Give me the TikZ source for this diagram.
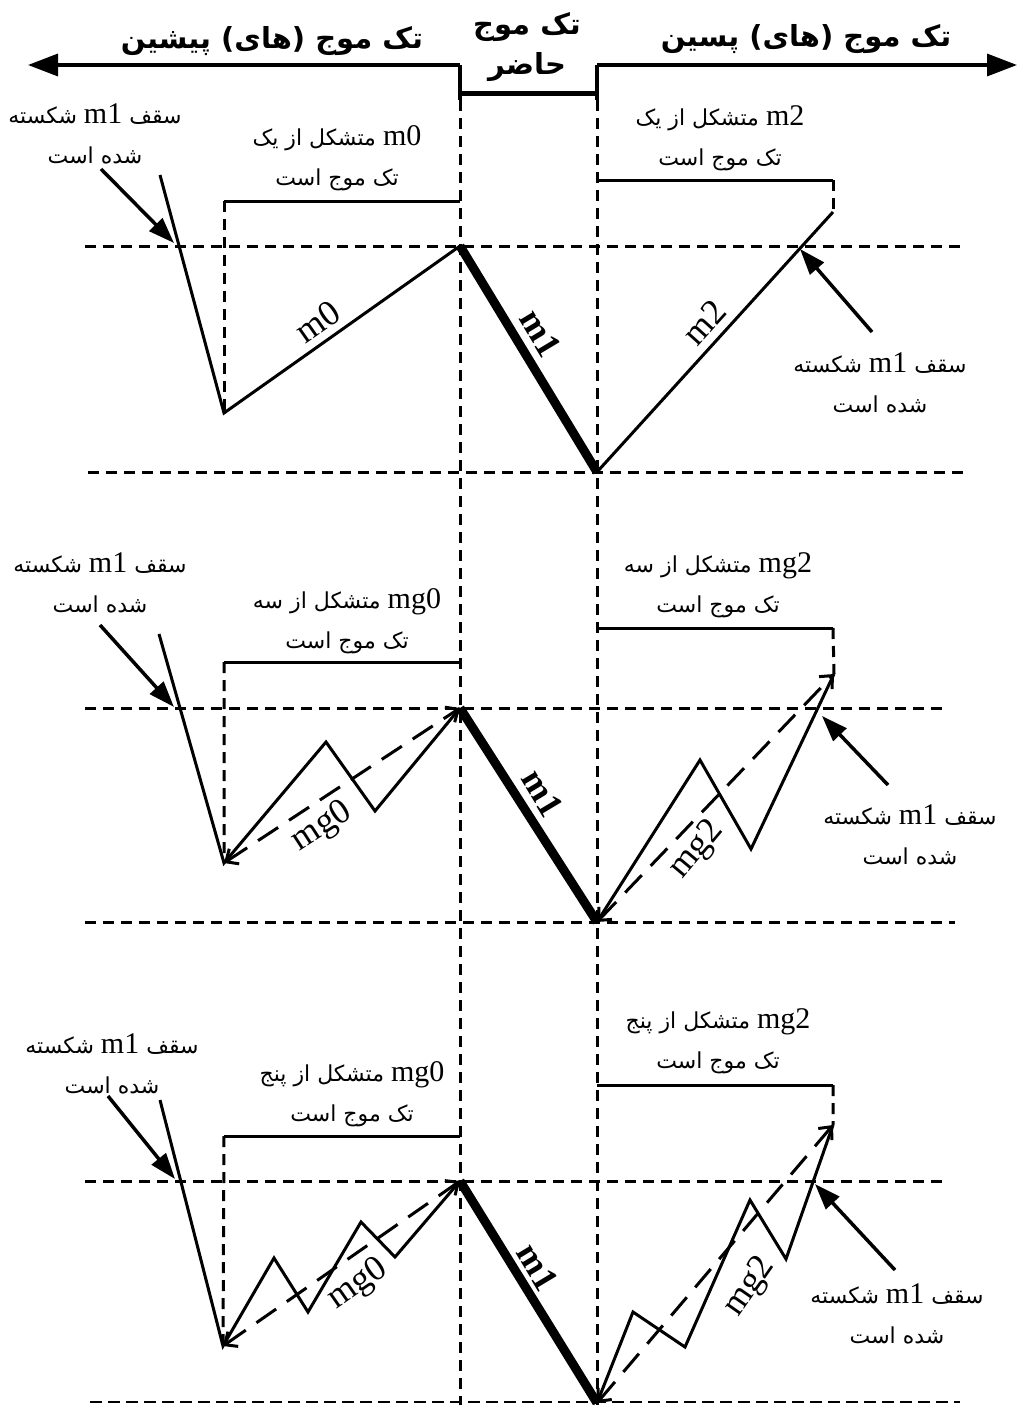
\documentclass[tikz,border=0pt]{standalone}
\usepackage{fontspec}
\usetikzlibrary{arrows.meta}
\TeXXeTstate=1
\newfontfamily\fafont[Script=Arabic]{DejaVu Sans}
\newfontfamily\latfont{Liberation Serif}
\newcommand{\lat}[1]{\beginL{\latfont\fontsize{30}{30}\selectfont #1}\endL}
\newcommand{\roofnote}{\beginR سقف \lat{m1} شکسته\endR\\\beginR شده است\endR}
\newcommand{\madeof}[2]{\beginR\lat{#1} متشکل از #2\endR\\\beginR تک موج است\endR}
\begin{document}
\begin{tikzpicture}[x=1pt,y=-1pt,
  guide/.style={line width=3pt,dash pattern=on 11pt off 7pt},
  wave/.style={line width=3pt,line join=miter},
  mone/.style={line width=9pt},
  trend/.style={line width=3pt,dash pattern=on 24pt off 13pt,{Straight Barb[length=10pt,width=18pt]}-{Straight Barb[length=10pt,width=18pt]}},
  callout/.style={line width=3.5pt,-{Stealth[length=26pt,width=18pt,inset=0pt]}},
  note/.style={font=\fafont\fontsize{22}{40}\selectfont,align=center,inner sep=0pt},
  tag/.style={font=\latfont\fontsize{36}{36}\selectfont,inner sep=0pt},
  bigtag/.style={font=\latfont\bfseries\fontsize{36}{36}\selectfont,inner sep=0pt},
  head/.style={font=\fafont\bfseries\fontsize{29}{30}\selectfont,inner sep=0pt}]
\useasboundingbox (0,0) rectangle (1019,1405);
% time axis on top
\coordinate (nowL) at (460,65); \coordinate (nowR) at (597,65);
\coordinate (pastEnd) at (28,65); \coordinate (nextEnd) at (1017,65);
\coordinate (barL) at (460,100); \coordinate (barR) at (597,100);
\draw[line width=3.5pt,-{Triangle[length=30pt,width=22pt]}] (nowL) -- (pastEnd);
\draw[line width=3.5pt,-{Triangle[length=30pt,width=22pt]}] (nowR) -- (nextEnd);
\draw[line width=3.5pt] (nowL) -- (barL) (nowR) -- (barR);
\draw[line width=5pt] (460,93) -- (597,93);
\node[head] (past) at (272,41) {\beginR تک موج (های) پیشین\endR};
\node[head] (next) at (806,39) {\beginR تک موج (های) پسین\endR};
\node[head] (cur1) at (527,27) {\beginR تک موج\endR};
\node[head] (cur2) at (527,67) {\beginR حاضر\endR};
\coordinate (nowB) at (460,1405); \coordinate (nextB) at (597,1405);
\draw[guide] (barL) -- (nowB) (barR) -- (nextB);

% panel a: single waves
\draw[guide] (85,246) -- (960,246) (88,472) -- (965,472);
\coordinate (a-in) at (160,175); \coordinate (a-p0) at (224,413);
\coordinate (a-top) at (460,246); \coordinate (a-low) at (597,472);
\coordinate (a-p2) at (833,212);
\draw[wave] (a-in) -- (a-p0) -- (a-top);
\draw[mone] (a-top) -- (a-low);
\draw[wave] (a-low) -- (a-p2);
\draw[wave] (224,201) -- (460,201) (597,180) -- (833,180);
\draw[guide] (224,201) -- (a-p0) (833,180) -- (a-p2);
\node[tag,rotate=35] (a-m0) at (318,322) {m0};
\node[bigtag,rotate=-59] (a-m1) at (541,333) {m1};
\node[tag,rotate=48] (a-m2) at (704,322) {m2};
\node[note] (a-rl) at (95,134) {\roofnote};
\node[note] (a-c0) at (337,158) {\madeof{m0}{یک}};
\node[note] (a-c2) at (720,138) {\madeof{m2}{یک}};
\node[note] (a-rr) at (880,383) {\roofnote};
\coordinate (a-hl) at (174,243); \coordinate (a-hr) at (800,249);
\draw[callout] (101,169) -- (a-hl);
\draw[callout] (872,332) -- (a-hr);

% panel b: three waves
\draw[guide] (85,708) -- (945,708) (85,922) -- (955,922);
\coordinate (b-in) at (159,634); \coordinate (b-p0) at (224,863);
\coordinate (b-top) at (460,708); \coordinate (b-low) at (597,922);
\coordinate (b-p2) at (834,674);
\draw[wave] (b-in) -- (b-p0) -- (326,742) -- (375,811) -- (b-top);
\draw[mone] (b-top) -- (b-low);
\draw[wave] (b-low) -- (700,760) -- (751,849) -- (b-p2);
\draw[trend] (b-p0) -- (b-top);
\draw[trend] (b-low) -- (b-p2);
\draw[wave] (224,662) -- (460,662) (597,628) -- (833,628);
\draw[guide] (224,662) -- (b-p0) (833,628) -- (b-p2);
\node[tag,rotate=33] (b-m0) at (322,827) {mg0};
\node[bigtag,rotate=-59] (b-m1) at (543,793) {m1};
\node[tag,rotate=50] (b-m2) at (697,850) {mg2};
\node[note] (b-rl) at (100,583) {\roofnote};
\node[note] (b-c0) at (347,621) {\madeof{mg0}{سه}};
\node[note] (b-c2) at (718,585) {\madeof{mg2}{سه}};
\node[note] (b-rr) at (910,835) {\roofnote};
\coordinate (b-hl) at (174,707); \coordinate (b-hr) at (822,716);
\draw[callout] (100,625) -- (b-hl);
\draw[callout] (888,785) -- (b-hr);

% panel c: five waves
\draw[guide] (85,1181) -- (945,1181);
\draw[line width=2.2pt,dash pattern=on 12pt off 6pt] (90,1402) -- (960,1402);
\coordinate (c-in) at (160,1100); \coordinate (c-p0) at (223,1346);
\coordinate (c-top) at (460,1181); \coordinate (c-low) at (597,1403);
\coordinate (c-p2) at (833,1125);
\draw[wave] (c-in) -- (c-p0) -- (274,1258) -- (308,1312) -- (361,1222) -- (395,1257) -- (c-top);
\draw[mone] (c-top) -- (c-low);
\draw[wave] (c-low) -- (633,1312) -- (685,1347) -- (750,1200) -- (786,1259) -- (c-p2);
\draw[trend] (c-p0) -- (c-top);
\draw[trend] (c-low) -- (c-p2);
\draw[wave] (224,1136) -- (460,1136) (597,1085) -- (833,1085);
\draw[guide] (224,1136) -- (c-p0) (833,1085) -- (c-p2);
\node[tag,rotate=35] (c-m0) at (358,1285) {mg0};
\node[bigtag,rotate=-59] (c-m1) at (538,1267) {m1};
\node[tag,rotate=55] (c-m2) at (750,1287) {mg2};
\node[note] (c-rl) at (112,1064) {\roofnote};
\node[note] (c-c0) at (352,1094) {\madeof{mg0}{پنج}};
\node[note] (c-c2) at (718,1041) {\madeof{mg2}{پنج}};
\node[note] (c-rr) at (897,1314) {\roofnote};
\coordinate (c-hl) at (175,1179); \coordinate (c-hr) at (815,1184);
\draw[callout] (108,1096) -- (c-hl);
\draw[callout] (895,1270) -- (c-hr);
\end{tikzpicture}
\end{document}
